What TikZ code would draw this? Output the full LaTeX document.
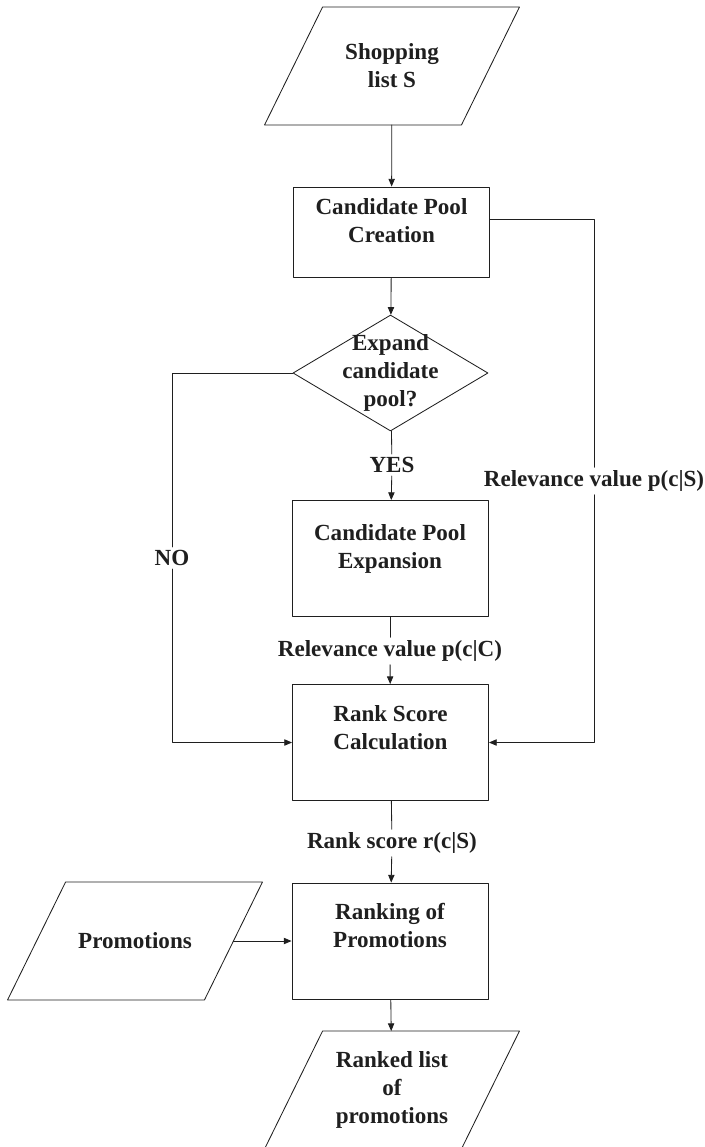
\documentclass[tikz,border=0pt]{standalone}
\usepackage{fontspec}
\setmainfont{Liberation Serif}
\usetikzlibrary{arrows.meta,shapes.geometric,calc}

\begin{document}
\begin{tikzpicture}[line cap=round,line join=round,x=0.025cm,y=-0.025cm,
		font=\fontsize{16.4}{19.9}\selectfont\bfseries,color=black!88,line width=0.6pt,
		box/.style={draw,rectangle,align=center,minimum width=4.9cm,minimum height=2.9cm,inner sep=0pt},
		io/.style={rectangle,align=center,minimum width=4.9cm,minimum height=2.925cm,inner sep=0pt},
		lbl/.style={align=center,inner sep=2pt},
		arr/.style={-{Triangle[length=5.5pt,width=4.5pt]}}]
		\useasboundingbox (0,0) rectangle (705,1147);
		% inputs and boxes
		\node[io] (shop) at (392,66) {Shopping\\list S};
		\node[box,minimum height=2.25cm] (create) at (391.5,232) {Candidate Pool\\Creation\\[-9pt]\strut};
		\node[draw,diamond,minimum width=4.875cm,minimum height=2.9cm,inner sep=0pt] (decide) at (390.5,373) {};
		\node[lbl] (decidetxt) at (decide.center) {Expand\\candidate\\pool?};
		\node[box] (expand) at (390,558.5) {Candidate Pool\\Expansion\\[-9pt]\strut};
		\node[box] (rank) at (390.5,742.5) {Rank Score\\Calculation\\[-4pt]\strut};
		\node[box] (order) at (390,941) {Ranking of\\Promotions\\[-4pt]\strut};
		\node[io] (promo) at (135,941) {Promotions};
		\node[io] (ranked) at (392,1090) {Ranked list\\of\\promotions};
		% parallelograms round the input / output nodes
		\foreach \n in {shop,promo,ranked}
			\draw ($(\n.south west)+(-29,0)$) -- ($(\n.south east)+(-29,0)$)
				-- ($(\n.north east)+(29,0)$) -- ($(\n.north west)+(29,0)$) -- cycle;
		% labels on the lines
		\node[lbl] (yes) at (392,465) {YES};
		\node[lbl] (no) at (172,558) {NO};
		\node[lbl] (relC) at (390,651) {Relevance value p(c|C)};
		\node[lbl] (relS) at (594,481) {Relevance value p(c|S)};
		\node[lbl] (score) at (392,843) {Rank score r(c|S)};
		% connectors
		\draw[arr] (shop) -- (create);
		\draw[arr] (create) -- (decide);
		\draw (decide) -- (yes);
		\draw[arr] (yes) -- (expand);
		\draw (expand) -- (relC);
		\draw[arr] (relC) -- (rank);
		\draw (decide.west) -| (no);
		\draw[arr] (no) |- (rank);
		\draw ([yshift=0.325cm]create.east) -| (relS);
		\draw[arr] (relS) |- (rank);
		\draw (rank) -- (score);
		\draw[arr] (score) -- (order);
		\draw[arr] (promo) -- (order);
		\draw[arr] (order) -- (ranked);
	\end{tikzpicture}
\end{document}
